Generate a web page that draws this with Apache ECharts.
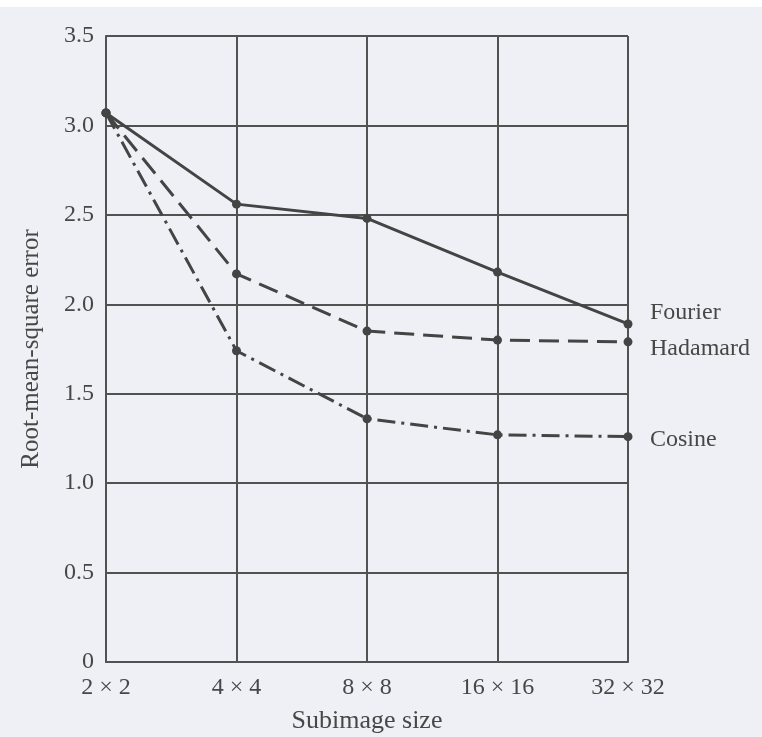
<!DOCTYPE html>
<html>
<head>
<meta charset="utf-8">
<script src="https://cdn.jsdelivr.net/npm/echarts@6/dist/echarts.min.js"></script>
<style>
html,body{margin:0;padding:0;background:#ffffff;}
#chart{width:762px;height:737px;}
</style>
</head>
<body>
<div id="chart"></div>
<script>
const categories = ["2 × 2", "4 × 4", "8 × 8", "16 × 16", "32 × 32"];
const fourier  = [3.07, 2.56, 2.48, 2.18, 1.89];
const hadamard = [3.07, 2.17, 1.85, 1.80, 1.79];
const cosine   = [3.07, 1.74, 1.36, 1.27, 1.26];
const seriesNames = ["Fourier", "Hadamard", "Cosine"];
const yTicks = [0, 0.5, 1.0, 1.5, 2.0, 2.5, 3.0, 3.5];

const ink = '#444444';
const gridInk = '#525252';
const textInk = '#474747';
const font = '"Liberation Serif", "DejaVu Serif", serif';

const chart = echarts.init(document.getElementById('chart'), null, {renderer: 'canvas'});

function mkSeries(name, data, lineType, labelOffset) {
  return {
    name: name,
    type: 'line',
    data: data,
    symbol: 'circle',
    symbolSize: 9,
    itemStyle: {color: ink},
    lineStyle: {color: ink, width: 3, type: lineType},
    endLabel: {
      show: true,
      formatter: name,
      fontFamily: font,
      fontSize: 24,
      color: textInk,
      distance: 22,
      offset: labelOffset
    },
    z: 5
  };
}

chart.setOption({
  backgroundColor: '#eef0f5',
  animation: false,
  graphic: [{
    type: 'rect', left: 0, top: 0, z: -10,
    shape: {width: 762, height: 7},
    style: {fill: '#ffffff'}
  }],
  grid: {left: 106, right: 134, top: 36, bottom: 75, containLabel: false, outerBoundsMode: 'none'},
  xAxis: {
    type: 'category',
    data: categories,
    boundaryGap: false,
    name: 'Subimage size',
    nameLocation: 'middle',
    nameGap: 46,
    nameTextStyle: {fontFamily: font, fontSize: 26, color: textInk},
    axisLine: {show: true, lineStyle: {color: gridInk, width: 2}},
    axisTick: {show: false},
    axisLabel: {fontFamily: font, fontSize: 24, color: textInk, margin: 14},
    splitLine: {show: true, lineStyle: {color: gridInk, width: 2}}
  },
  yAxis: {
    type: 'value',
    min: 0,
    max: 3.5,
    interval: 0.5,
    name: 'Root-mean-square error',
    nameLocation: 'middle',
    nameGap: 62,
    nameTextStyle: {fontFamily: font, fontSize: 25, color: textInk},
    axisLine: {show: true, lineStyle: {color: gridInk, width: 2}},
    axisTick: {show: false},
    axisLabel: {
      fontFamily: font, fontSize: 24, color: textInk, margin: 12,
      formatter: function (v) {
        const t = yTicks.find(x => Math.abs(x - v) < 1e-9);
        return t === 0 ? '0' : t.toFixed(1);
      }
    },
    splitLine: {show: true, lineStyle: {color: gridInk, width: 2}}
  },
  series: [
    mkSeries(seriesNames[0], fourier, 'solid', [0, -11]),
    mkSeries(seriesNames[1], hadamard, [20, 9], [0, 7]),
    mkSeries(seriesNames[2], cosine, [18, 6, 3, 6], [0, 3])
  ]
});
</script>
</body>
</html>
